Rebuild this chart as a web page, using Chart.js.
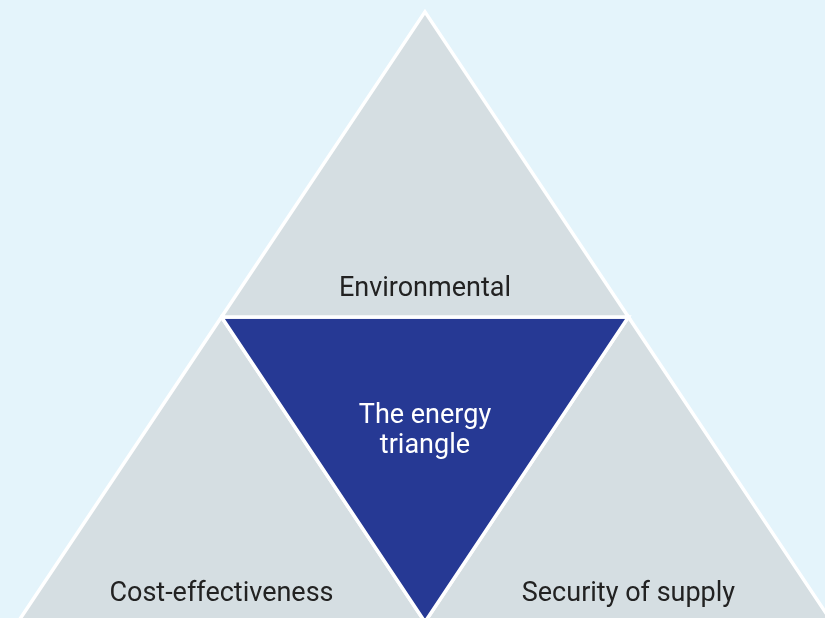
<!DOCTYPE html>
<html lang="en">
<head>
  <meta charset="UTF-8">
  <title>The energy triangle</title>
  <script src="https://cdn.jsdelivr.net/npm/chart.js"></script>
  <style>
    body { margin: 0; background: #e4f4fb; overflow: hidden; }
    #wrap { width: 825px; height: 618px; }
  </style>
</head>
<body>
  <div id="wrap"><canvas id="triChart" width="825" height="618"></canvas></div>
  <script>
    // the four parts of the triangle, in triangle units (base 0..4, height 0..2)
    const labels = [['Environmental'], ['The energy', 'triangle'], ['Cost-effectiveness'], ['Security of supply']];
    const topTri = [[1, 1], [2, 2], [3, 1]];
    const centreTri = [[1, 1], [3, 1], [2, 0]];
    const leftTri = [[0, 0], [1, 1], [2, 0]];
    const rightTri = [[2, 0], [3, 1], [4, 0]];
    const fills = ['#d5dee2', '#263994', '#d5dee2', '#d5dee2'];
    const textColors = ['#222222', '#ffffff', '#222222', '#222222'];

    const shapes = [topTri, centreTri, leftTri, rightTri];

    const toPoints = tri => tri.concat([tri[0]]).map(p => ({ x: p[0], y: p[1] }));

    const labelPlugin = {
      id: 'triLabels',
      afterDatasetsDraw(chart) {
        const { ctx, scales: { x, y } } = chart;
        ctx.save();
        ctx.font = '27px Roboto, "Open Sans", sans-serif';
        ctx.textAlign = 'center';
        ctx.textBaseline = 'alphabetic';
        shapes.forEach((tri, i) => {
          const xs = tri.map(p => p[0]), ys = tri.map(p => p[1]);
          const cx = x.getPixelForValue((Math.min(...xs) + Math.max(...xs)) / 2);
          const lines = labels[i];
          ctx.fillStyle = textColors[i];
          let base;
          if (i === 1) {
            // inverted triangle: text block just below the centroid
            const cy = y.getPixelForValue(ys.reduce((a, b) => a + b, 0) / 3);
            base = cy + 4;
          } else {
            base = y.getPixelForValue(Math.min(...ys)) - 21;
          }
          lines.forEach((t, k) => ctx.fillText(t, cx, base + k * 30));
        });
        ctx.restore();
      }
    };

    new Chart(document.getElementById('triChart'), {
      type: 'scatter',
      data: {
        datasets: shapes.map((tri, i) => ({
          label: labels[i].join(' '),
          data: toPoints(tri),
          showLine: true,
          fill: 'shape',
          backgroundColor: fills[i],
          borderColor: '#ffffff',
          borderWidth: 3.5,
          borderJoinStyle: 'miter',
          pointRadius: 0,
          tension: 0
        }))
      },
      options: {
        responsive: false,
        animation: false,
        layout: { padding: 0 },
        plugins: { legend: { display: false }, tooltip: { enabled: false } },
        scales: {
          x: { type: 'linear', min: -0.0885, max: 3.966, display: false },
          y: { type: 'linear', min: 0.013, max: 2.039, display: false }
        }
      },
      plugins: [labelPlugin]
    });
  </script>
</body>
</html>
